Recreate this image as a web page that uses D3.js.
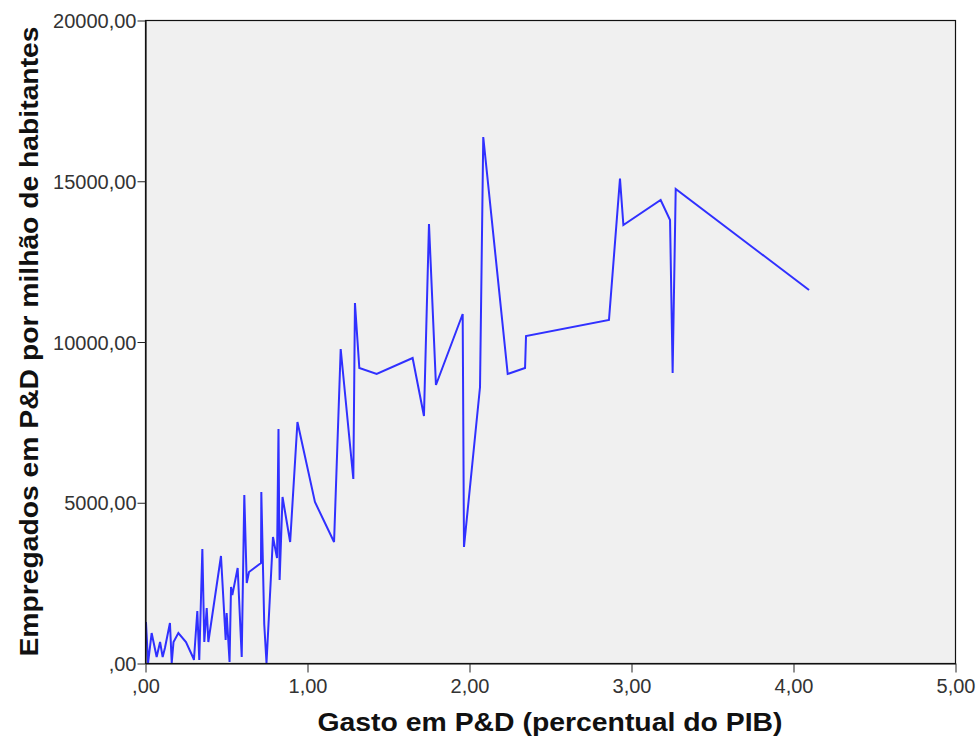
<!DOCTYPE html>
<html>
<head>
<meta charset="utf-8">
<script src="https://cdn.jsdelivr.net/npm/d3@7"></script>
<style>
  html, body { margin: 0; padding: 0; background: #ffffff; }
  svg { display: block; }
</style>
</head>
<body>
<svg id="chart" width="979" height="738"></svg>
<script>
// Gasto em P&D (% do PIB) -> x
const gasto = [
  0.006, 0.019, 0.041, 0.072, 0.093, 0.109, 0.123, 0.154, 0.165, 0.176,
  0.206, 0.253, 0.298, 0.302, 0.323, 0.335, 0.354, 0.366, 0.381, 0.391,
  0.469, 0.498, 0.504, 0.522, 0.531, 0.539, 0.572, 0.597, 0.613, 0.628,
  0.642, 0.716, 0.718, 0.736, 0.750, 0.790, 0.815, 0.824, 0.831, 0.849,
  0.896, 0.941, 1.049, 1.167, 1.208, 1.286, 1.296, 1.323, 1.430, 1.652,
  1.722, 1.753, 1.796, 1.961, 1.969, 2.068, 2.088, 2.239, 2.346, 2.352,
  2.864, 2.932, 2.953, 3.183, 3.241, 3.257, 3.276, 4.099
];
// Empregados em P&D por milhão de habitantes -> y
const empregados = [
  1275, 0, 933, 187, 653, 187, 467, 1244, 0, 653,
  933, 653, 156, 93, 1617, 93, 3546, 653, 1711, 653,
  3328, 715, 1555, 31, 2364, 2115, 2955, 187, 5226, 2488,
  2830, 3110, 5319, 1213, 0, 3919, 3266, 7278, 2582, 5163,
  3764, 7496, 5008, 3764, 9767, 5723, 11198, 9176, 8989, 9487,
  7683, 13655, 8647, 10855, 3608, 8585, 16361, 8989, 9176, 10171,
  10669, 15070, 13624, 14401, 13779, 9020, 14743, 11602
];
const xTickValues = [0, 1, 2, 3, 4, 5];
const xTickLabels = [",00", "1,00", "2,00", "3,00", "4,00", "5,00"];
const yTickValues = [0, 5000, 10000, 15000, 20000];
const yTickLabels = [",00", "5000,00", "10000,00", "15000,00", "20000,00"];
const xTitle = "Gasto em P&D (percentual do PIB)";
const yTitle = "Empregados em P&D por milhão de habitantes";

const svg = d3.select("#chart");
const pLeft = 145, pRight = 955, pTop = 20, pBottom = 663;

const x = d3.scaleLinear().domain([0, 5]).range([pLeft, pRight]);
const y = d3.scaleLinear().domain([0, 20000]).range([pBottom, pTop]);

// plot background
svg.append("rect")
  .attr("x", pLeft).attr("y", pTop)
  .attr("width", pRight - pLeft).attr("height", pBottom - pTop)
  .attr("fill", "#f0f0f0");

// data line
const pts = gasto.map((g, i) => [g, empregados[i]]);
svg.append("path")
  .datum(pts)
  .attr("fill", "none")
  .attr("stroke", "#3030ff")
  .attr("stroke-width", 2)
  .attr("stroke-linejoin", "miter")
  .attr("d", d3.line().x(d => x(d[0])).y(d => y(d[1])));

// frame
svg.append("rect")
  .attr("x", pLeft + 0.5).attr("y", pTop + 0.5)
  .attr("width", pRight - pLeft).attr("height", pBottom - pTop)
  .attr("fill", "none").attr("stroke", "#111").attr("stroke-width", 1.2);

// axes
const xAxis = d3.axisBottom(x)
  .tickValues(xTickValues)
  .tickFormat((d, i) => xTickLabels[i])
  .tickSize(9).tickPadding(6).tickSizeOuter(0);
const gx = svg.append("g").attr("transform", `translate(0.5,${pBottom + 0.5})`).call(xAxis);

const yAxis = d3.axisLeft(y)
  .tickValues(yTickValues)
  .tickFormat((d, i) => yTickLabels[i])
  .tickSize(8).tickPadding(1).tickSizeOuter(0);
const gy = svg.append("g").attr("transform", `translate(${pLeft + 0.5},0.5)`).call(yAxis);

[gx, gy].forEach(g => {
  g.select(".domain").attr("stroke", "#111").attr("stroke-width", 1.2);
  g.selectAll(".tick line").attr("stroke", "#222").attr("stroke-width", 1);
  g.selectAll(".tick text")
    .attr("fill", "#333")
    .style("font-family", "'Liberation Sans', Arial, sans-serif")
    .style("font-size", "20px");
});
gy.selectAll(".tick text").attr("dy", "0.36em");
gx.selectAll(".tick text").attr("dy", "0.74em");

// titles
svg.append("text")
  .attr("x", (pLeft + pRight) / 2).attr("y", 731)
  .attr("text-anchor", "middle")
  .attr("textLength", 465).attr("lengthAdjust", "spacingAndGlyphs")
  .style("font-family", "'Liberation Sans', Arial, sans-serif")
  .style("font-weight", "bold").style("font-size", "26px")
  .attr("fill", "#111")
  .text(xTitle);

svg.append("text")
  .attr("transform", `translate(38,${(pTop + pBottom) / 2}) rotate(-90)`)
  .attr("text-anchor", "middle")
  .attr("textLength", 630).attr("lengthAdjust", "spacingAndGlyphs")
  .style("font-family", "'Liberation Sans', Arial, sans-serif")
  .style("font-weight", "bold").style("font-size", "26px")
  .attr("fill", "#111")
  .text(yTitle);
</script>
</body>
</html>
